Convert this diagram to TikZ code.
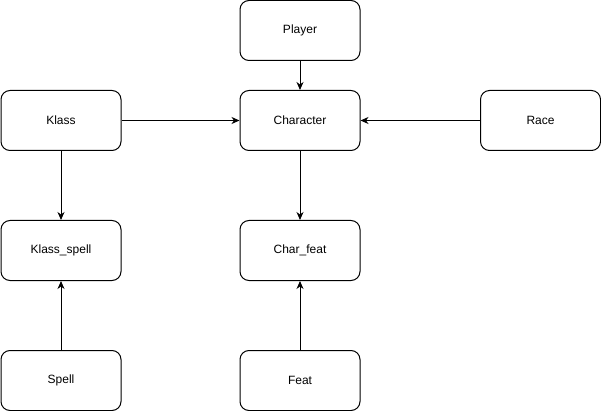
\documentclass[tikz,border=0pt]{standalone}
\usepackage{fontspec}
\setmainfont{Liberation Sans}
\usetikzlibrary{arrows.meta}
\begin{document}
\begin{tikzpicture}[x=1pt,y=-1pt,
  box/.style={draw=black,line width=1pt,rounded corners=9pt,minimum width=120pt,minimum height=60pt,inner sep=0pt,font=\fontsize{12}{14}\selectfont,fill=white},
  conn/.style={line width=1pt,-{Stealth[length=8pt,width=7pt,inset=2.5pt]}}]
\useasboundingbox (0,0) rectangle (601,411);
\node[box] (player) at (300,30.5) {Player};
\node[box] (klass) at (61,120.5) {Klass};
\node[box] (char) at (300,120.5) {Character};
\node[box] (race) at (540.5,120.5) {Race};
\node[box] (kspell) at (61,250.5) {Klass\_spell};
\node[box] (cfeat) at (300,250.5) {Char\_feat};
\node[box] (spell) at (61,380.5) {Spell};
\node[box] (feat) at (300,380.5) {Feat};
\draw[conn] (player) -- (char);
\draw[conn] (klass) -- (char);
\draw[conn] (race) -- (char);
\draw[conn] (char) -- (cfeat);
\draw[conn] (klass) -- (kspell);
\draw[conn] (spell) -- (kspell);
\draw[conn] (feat) -- (cfeat);
\end{tikzpicture}
\end{document}
